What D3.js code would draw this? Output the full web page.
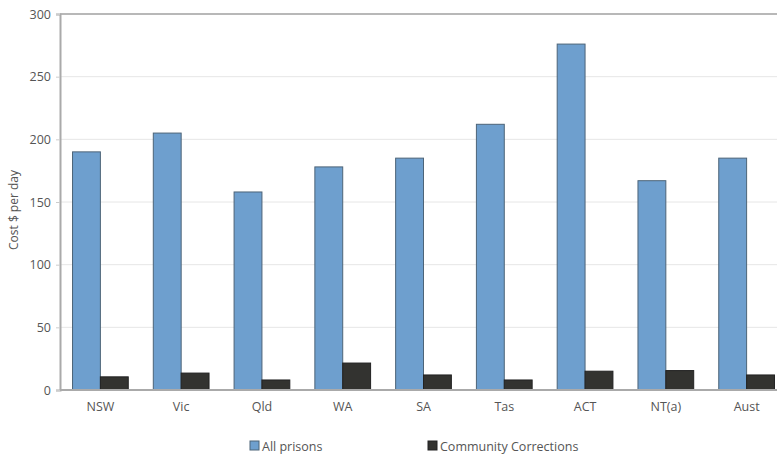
<!DOCTYPE html>
<html>
<head>
<meta charset="utf-8">
<script src="https://cdn.jsdelivr.net/npm/d3@7"></script>
<style>
  body { margin: 0; background: #fff; }
  text { font-family: "Open Sans", Lato, sans-serif; fill: #555; }
</style>
</head>
<body>
<svg width="777" height="455"></svg>
<script>
var categories = ['NSW', 'Vic', 'Qld', 'WA', 'SA', 'Tas', 'ACT', 'NT(a)', 'Aust'];
var prisons = [190, 205, 158, 178, 185, 212, 276, 167, 185];
var community = [10.5, 13.5, 8, 21.5, 12, 8, 15, 15.5, 12];
var seriesNames = ['All prisons', 'Community Corrections'];
var yTicks = [0, 50, 100, 150, 200, 250, 300];

var margin = { top: 14, bottom: 65, left: 60 };
var height = 455;
var svg = d3.select('svg');

var xScale = d3.scaleBand()
  .domain(categories)
  .range([margin.left, 787])
  .paddingInner(0.31)
  .paddingOuter(0.155);
var sub = d3.scaleBand()
  .domain([0, 1])
  .range([0, xScale.bandwidth()]);
var yScale = d3.scaleLinear()
  .domain([0, 300])
  .range([height - margin.bottom, margin.top]);

// grid lines
svg.append('g').selectAll('line')
  .data(yTicks.slice(1, -1))
  .enter().append('line')
  .attr('x1', margin.left).attr('x2', 777)
  .attr('y1', d => yScale(d)).attr('y2', d => yScale(d))
  .attr('stroke', '#e6e6e6');

// top border
svg.append('line')
  .attr('x1', margin.left).attr('x2', 777)
  .attr('y1', yScale(300)).attr('y2', yScale(300))
  .attr('stroke', '#b8b8b8').attr('stroke-width', 2);

var colors = ['#6e9fce', '#333330'];
var strokes = ['#4d6478', '#222'];

categories.forEach((c, i) => {
  [prisons[i], community[i]].forEach((v, j) => {
    svg.append('rect')
      .attr('x', xScale(c) + sub(j))
      .attr('y', yScale(v))
      .attr('width', sub.bandwidth())
      .attr('height', yScale(0) - yScale(v))
      .attr('fill', colors[j])
      .attr('stroke', strokes[j])
      .attr('stroke-width', 1);
  });
});

// axes
var yAxis = d3.axisLeft(yScale).tickValues(yTicks).tickSize(4).tickPadding(5);
var gy = svg.append('g').attr('transform', 'translate(' + [margin.left, 0] + ')').call(yAxis);
gy.select('.domain').attr('stroke', '#aaa').attr('stroke-width', 2);
gy.selectAll('.tick line').attr('stroke', '#ccc');
gy.selectAll('text').style('font-size', '12.5px').attr('fill', '#555');

var xAxis = d3.axisBottom(xScale).tickSize(0).tickPadding(12);
var gx = svg.append('g').attr('transform', 'translate(' + [0, yScale(0)] + ')').call(xAxis);
gx.select('.domain').attr('stroke', '#aaa').attr('stroke-width', 2).attr('d', 'M' + margin.left + ',0H777');
gx.selectAll('text').style('font-size', '12.5px').attr('fill', '#555');

// y label
svg.append('text')
  .attr('transform', 'translate(18,' + (yScale(150) + 8) + ') rotate(-90)')
  .attr('text-anchor', 'middle')
  .style('font-size', '12px')
  .text('Cost $ per day');

// legend
var legendX = [250, 428];
seriesNames.forEach((n, j) => {
  var g = svg.append('g').attr('transform', 'translate(' + [legendX[j], 441] + ')');
  g.append('rect').attr('width', 9).attr('height', 9)
    .attr('fill', colors[j]).attr('stroke', strokes[j]);
  g.append('text').attr('x', 12).attr('y', 9.5).style('font-size', '12.5px').text(n);
});
</script>
</body>
</html>
